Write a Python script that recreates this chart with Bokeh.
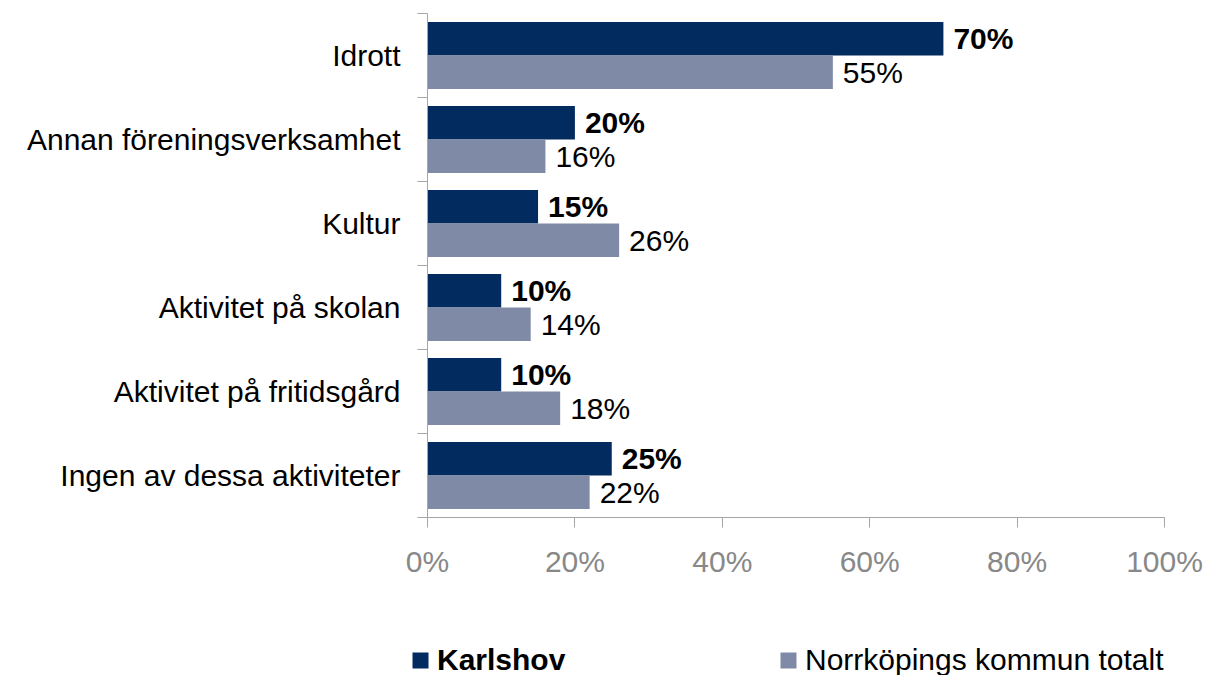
from bokeh.plotting import figure
from bokeh.layouts import column
from bokeh.models import (ColumnDataSource, Range1d, FixedTicker, PrintfTickFormatter,
                          Legend, LegendItem)
from bokeh.core.properties import value
from bokeh.embed import file_html
from bokeh.resources import INLINE

categories = ["Idrott", "Annan föreningsverksamhet", "Kultur", "Aktivitet på skolan",
              "Aktivitet på fritidsgård", "Ingen av dessa aktiviteter"]
karlshov = [70, 20, 15, 10, 10, 25]
norrkoping = [55, 16, 26, 14, 18, 22]
x_ticks = [0, 20, 40, 60, 80, 100]
series_names = ["Karlshov", "Norrköpings kommun totalt"]

DARK = "#022B60"
LIGHT = "#7F8AA6"
AXIS = "#A6A6A6"
TICKLAB = "#888888"
FONT = "Liberation Sans"
FS = "30px"

W = 1211
H_MAIN = 630
H_LEG = 45

n = len(categories)
centers = [n - i - 0.5 for i in range(n)]

p = figure(width=W, height=H_MAIN, x_range=Range1d(0, 100), y_range=Range1d(0, n),
           output_backend="svg", toolbar_location=None,
           min_border_left=427, min_border_right=W - 1164, min_border_top=13,
           min_border_bottom=H_MAIN - 517)
p.grid.visible = False
p.outline_line_color = None
p.background_fill_color = "white"
p.border_fill_color = "white"

src_k = ColumnDataSource(dict(y=[c + 0.2 for c in centers], v=karlshov,
                              lab=[f"{v}%" for v in karlshov]))
src_n = ColumnDataSource(dict(y=[c - 0.2 for c in centers], v=norrkoping,
                              lab=[f"{v}%" for v in norrkoping]))

p.hbar(y="y", right="v", left=0, height=0.4, fill_color=DARK, line_color=None, source=src_k)
p.hbar(y="y", right="v", left=0, height=0.4, fill_color=LIGHT, line_color=None, source=src_n)

p.text(x="v", y="y", text="lab", x_offset=10, text_align="left", text_baseline="middle",
       text_font=value(FONT), text_font_size=FS, text_font_style="bold", text_color="black",
       source=src_k)
p.text(x="v", y="y", text="lab", x_offset=10, text_align="left", text_baseline="middle",
       text_font=value(FONT), text_font_size=FS, text_color="black", source=src_n)

# y axis: labels at centers, tick marks at category boundaries
p.yaxis.ticker = FixedTicker(ticks=centers, minor_ticks=list(range(n + 1)))
p.yaxis.major_label_overrides = {c: cat for c, cat in zip(centers, categories)}
p.yaxis.major_tick_line_color = None
p.yaxis.major_tick_out = 10
p.yaxis.major_tick_in = 0
p.yaxis.minor_tick_in = 0
p.yaxis.minor_tick_out = 10
p.yaxis.minor_tick_line_color = AXIS
p.yaxis.axis_line_color = AXIS
p.yaxis.major_label_standoff = 17
p.yaxis.major_label_text_font = FONT
p.yaxis.major_label_text_font_size = FS
p.yaxis.major_label_text_color = "black"

p.xaxis.ticker = FixedTicker(ticks=x_ticks)
p.xaxis.formatter = PrintfTickFormatter(format="%d%%")
p.xaxis.major_tick_out = 10
p.xaxis.major_tick_in = 0
p.xaxis.minor_tick_line_color = None
p.xaxis.major_tick_line_color = AXIS
p.xaxis.axis_line_color = AXIS
p.xaxis.major_label_standoff = 17
p.xaxis.major_label_text_font = FONT
p.xaxis.major_label_text_font_size = FS
p.xaxis.major_label_text_color = TICKLAB

# legend strip (separate figure so the two legend entries can differ in weight)
lg_fig = figure(width=W, height=H_LEG, x_range=Range1d(0, 1), y_range=Range1d(0, 1),
                output_backend="svg", toolbar_location=None,
                x_axis_location=None, y_axis_location=None,
                min_border_left=0, min_border_right=0, min_border_top=0, min_border_bottom=0)
lg_fig.frame_align = False
lg_fig.grid.visible = False
lg_fig.outline_line_color = None
lg_fig.border_fill_color = "white"
lg_fig.background_fill_color = "white"
# zero-width key glyphs: only their colours are shown, in the legend
k_key = lg_fig.hbar(y=[0.5], right=[0], left=[0], height=0.4, fill_color=DARK, line_color=None)
n_key = lg_fig.hbar(y=[0.5], right=[0], left=[0], height=0.4, fill_color=LIGHT, line_color=None)

def make_legend(item, loc, style):
    lg = Legend(items=[item], location=loc, orientation="horizontal",
                label_text_font=FONT, label_text_font_size=FS, label_text_font_style=style,
                label_text_color="black", glyph_width=20, glyph_height=20,
                label_standoff=7, padding=0, margin=0, border_line_color=None,
                background_fill_alpha=0)
    lg_fig.add_layout(lg, "center")

make_legend(LegendItem(label=series_names[0], renderers=[k_key]), (410, -2), "bold")
make_legend(LegendItem(label=series_names[1], renderers=[n_key]), (778, -2), "normal")

layout = column(p, lg_fig, spacing=0)
open("out.html", "w").write(file_html(layout, INLINE))
